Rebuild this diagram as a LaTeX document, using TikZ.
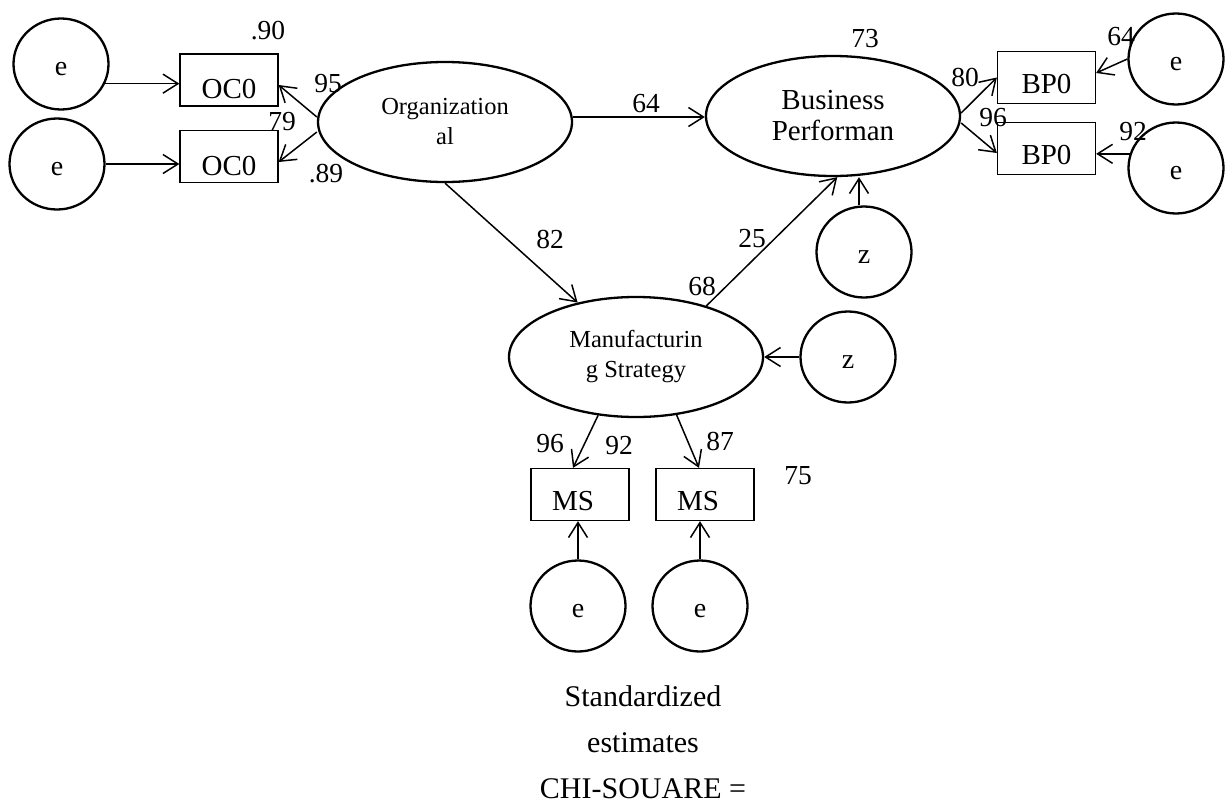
\documentclass[tikz,border=0pt]{standalone}
\usepackage{fontspec}
\setmainfont{Liberation Serif}
\usetikzlibrary{arrows.meta,shapes.geometric}
\begin{document}
\begin{tikzpicture}[x=1pt,y=-1pt,
  lat/.style={draw, ellipse, line width=2.3pt, inner sep=0pt, minimum width=254pt, minimum height=120pt, align=center},
  err/.style={draw, ellipse, line width=2.3pt, inner sep=0pt, minimum width=95pt, minimum height=91pt, text height=23pt, text depth=0pt, font=\fontsize{28}{30}\selectfont},
  obs/.style={draw, rectangle, line width=1.3pt, inner sep=0pt, minimum width=98pt, minimum height=52pt, text depth=0pt, font=\fontsize{29}{30}\selectfont},
  num/.style={inner sep=0pt, font=\fontsize{27.5}{30}\selectfont},
  conn/.style={line width=1.5pt, -{Straight Barb[length=15pt,width=19pt]}}
]
\fill[white] (0,0) rectangle (1225,806);
\useasboundingbox (0,0) rectangle (1225,806);

% left error terms and indicators
\node[err] (e1) at (61,64) {e};
\node[err] (e2) at (57,164) {e};
\node[obs, text height=37pt] (oc1) at (229,80) {OC0};
\node[obs, text height=37pt] (oc2) at (229,156.5) {OC0};

% latent variables
\node[lat, font=\fontsize{24.5}{30}\selectfont] (org) at (445,122) {Organization\\al};
\node[lat, font=\fontsize{29}{31}\selectfont] (bp) at (833,116) {Business\\Performan};
\node[lat, font=\fontsize{24.5}{30}\selectfont] (ms) at (636,357) {Manufacturin\\g Strategy};

% right indicators and error terms
\node[obs, text height=32pt] (bp1) at (1046.5,77.5) {BP0};
\node[obs, text height=32pt] (bp2) at (1046.5,148.5) {BP0};
\node[err] (e5) at (1176,59) {e};
\node[err] (e6) at (1176,168) {e};

% disturbances
\node[err] (z1) at (864,252) {z};
\node[err] (z2) at (848,357) {z};

% bottom indicators and error terms
\node[obs, text height=32pt, align=left, text width=56pt] (ms1) at (580,494.5) {MS};
\node[obs, text height=32pt, align=left, text width=56pt] (ms2) at (705,494.5) {MS};
\node[err] (e3) at (578,606) {e};
\node[err] (e4) at (700,606) {e};

% caption
\node[font=\fontsize{30}{46}\selectfont, align=center, inner sep=0pt] (cap) at (643,742) {Standardized\\estimates\\CHI-SOUARE =};

% connectors
\draw[conn] (e1.-24) -- (e1.-24 -| oc1.west);
\draw[conn] (e2.east) -- (e2.east -| oc2.west);
\draw[conn] ([yshift=5pt]org.west) -- ([yshift=-5pt]oc1.east);
\draw[conn] ([yshift=-10pt]org.west) -- ([yshift=-5.5pt]oc2.east);
\draw[conn] ([yshift=5pt]org.east) -- ([yshift=5pt]org.east -| bp.west);
\draw[conn] ([yshift=3pt]bp.east) -- (bp1.west);
\draw[conn] ([yshift=-7pt]bp.east) -- ([yshift=-4.5pt]bp2.west);
\draw[conn] (e5.west) -- ([yshift=4.5pt]bp1.east);
\draw[conn] (e6.163) -- (e6.163 -| bp2.east);
\draw[conn] (org.south) -- (ms.137);
\draw[conn] (ms.36) -- (bp.274);
\draw[conn] ([xshift=-5pt]z1.north) -- ([xshift=-5pt]z1.north |- bp.south);
\draw[conn] (z2.west) -- (ms.east);
\draw[conn] (ms.237) -- ([xshift=-7pt]ms1.north);
\draw[conn] (ms.305) -- ([xshift=-6pt]ms2.north);
\draw[conn] (e3.north) -- (e3.north |- ms1.south);
\draw[conn] (e4.north) -- (e4.north |- ms2.south);

% coefficient labels
\node[num] (l90) at (268,31) {.90};
\node[num] (l95) at (328,84) {95};
\node[num] (l79) at (282,122) {79};
\node[num] (l89) at (326,174) {.89};
\node[num] (l64a) at (646,104) {64};
\node[num] (l73) at (865,39) {73};
\node[num] (l80) at (965,77) {80};
\node[num] (l96a) at (993,118) {96};
\node[num] (l64b) at (1121,37) {64};
\node[num] (l92a) at (1133,132) {92};
\node[num] (l82) at (550,239) {82};
\node[num] (l25) at (752,239) {25};
\node[num] (l68) at (702,286) {68};
\node[num] (l96b) at (550,444) {96};
\node[num] (l92b) at (619,446) {92};
\node[num] (l87) at (720,441) {87};
\node[num] (l75) at (798,476) {75};
\end{tikzpicture}
\end{document}
